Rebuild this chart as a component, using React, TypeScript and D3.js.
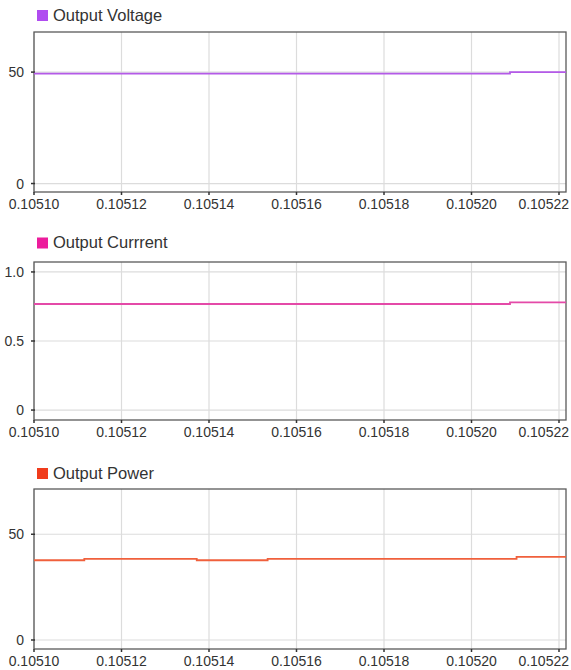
import React, { useRef, useEffect } from 'react';
import * as d3 from 'd3';

// x ticks shared by all three panels
const timeTicks = [0.1051, 0.10512, 0.10514, 0.10516, 0.10518, 0.1052, 0.10522];
const timeDomain = [0.1051, 0.1052216];

// output voltage (step data)
const voltageTimes = [0.1051, 0.1052088, 0.1052216];
const voltageValues = [49.3, 50.0, 50.0];
const voltageTicks = [0, 50];

// output current
const currentTimes = [0.1051, 0.1052088, 0.1052216];
const currentValues = [0.768, 0.78, 0.78];
const currentTicks = [0, 0.5, 1.0];

// output power
const powerTimes = [0.1051, 0.1051115, 0.1051372, 0.1051534, 0.1052103, 0.1052216];
const powerValues = [37.7, 38.4, 37.7, 38.4, 39.3, 39.3];
const powerTicks = [0, 50];

const panels = [
  { name: 'Output Voltage', color: '#b04cf0', line: '#b45ae8', times: voltageTimes, values: voltageValues,
    ticks: voltageTicks, fmt: (v) => String(v), yDomain: [-3.8, 68], top: 32, bottom: 192, legendY: 20.5 },
  { name: 'Output Currrent', color: '#ec1c9c', line: '#e44aa8', times: currentTimes, values: currentValues,
    ticks: currentTicks, fmt: (v) => (v === 0 ? '0' : v.toFixed(1)), yDomain: [-0.072, 1.072], top: 262, bottom: 420, legendY: 248 },
  { name: 'Output Power', color: '#f03c1c', line: '#f0603c', times: powerTimes, values: powerValues,
    ticks: powerTicks, fmt: (v) => String(v), yDomain: [-4.26, 71.4], top: 489, bottom: 649, legendY: 478.5 },
];

function App() {
  const ref = useRef(null);

  useEffect(() => {
    draw();
  }, []);

  function draw() {
    const svg = d3.select(ref.current);
    svg.selectAll('*').remove();
    const left = 34;
    const right = 566;
    const font = 'Arial, "Liberation Sans", sans-serif';

    const x = d3.scaleLinear().domain(timeDomain).range([left, right]);
    // keep the last label inside the page like the original
    const edge = (d) => x(d) + 26 > 571;

    panels.forEach((p) => {
      const y = d3.scaleLinear().domain(p.yDomain).range([p.bottom, p.top]);
      const g = svg.append('g');

      // legend
      g.append('rect')
        .attr('x', 37).attr('y', p.legendY - 10.5)
        .attr('width', 11).attr('height', 11)
        .attr('fill', p.color);
      g.append('text')
        .attr('x', 53).attr('y', p.legendY)
        .attr('font-family', font).attr('font-size', 16.5)
        .attr('fill', '#333')
        .text(p.name);

      // grid
      g.selectAll('.vgrid').data(timeTicks).enter().append('line')
        .attr('x1', (d) => x(d)).attr('x2', (d) => x(d))
        .attr('y1', p.top).attr('y2', p.bottom)
        .attr('stroke', '#dcdcdc').attr('stroke-width', 1.2);
      g.selectAll('.hgrid').data(p.ticks).enter().append('line')
        .attr('x1', left).attr('x2', right)
        .attr('y1', (d) => y(d)).attr('y2', (d) => y(d))
        .attr('stroke', '#dcdcdc').attr('stroke-width', 1.2);

      // frame
      g.append('rect')
        .attr('x', left).attr('y', p.top)
        .attr('width', right - left).attr('height', p.bottom - p.top)
        .attr('fill', 'none').attr('stroke', '#5a5a5a').attr('stroke-width', 1.3);

      // y ticks
      g.selectAll('.ytick').data(p.ticks).enter().append('line')
        .attr('x1', left - 3).attr('x2', left + 1)
        .attr('y1', (d) => y(d)).attr('y2', (d) => y(d))
        .attr('stroke', '#333').attr('stroke-width', 1.5);
      g.selectAll('.ylabel').data(p.ticks).enter().append('text')
        .attr('x', 24).attr('y', (d) => y(d) + 5)
        .attr('text-anchor', 'end')
        .attr('font-family', font).attr('font-size', 14)
        .attr('fill', '#333')
        .text((d) => p.fmt(d));

      // x ticks
      g.selectAll('.xtick').data(timeTicks).enter().append('line')
        .attr('x1', (d) => x(d)).attr('x2', (d) => x(d))
        .attr('y1', p.bottom).attr('y2', p.bottom + 3)
        .attr('stroke', '#333').attr('stroke-width', 1.5);
      g.selectAll('.xlabel').data(timeTicks).enter().append('text')
        .attr('x', (d) => (edge(d) ? 569 : x(d))).attr('y', p.bottom + 17)
        .attr('text-anchor', (d) => (edge(d) ? 'end' : 'middle'))
        .attr('font-family', font).attr('font-size', 14)
        .attr('fill', '#333')
        .text((d) => d.toFixed(5));

      // series
      const pts = p.times.map((t, i) => [t, p.values[i]]);
      g.append('path')
        .datum(pts)
        .attr('fill', 'none')
        .attr('stroke', p.line)
        .attr('stroke-width', 1.8)
        .attr('d', d3.line()
          .x((d) => x(d[0]))
          .y((d) => y(d[1]))
          .curve(d3.curveStepAfter));
    });
  }

  return (
    <svg ref={ref} width={571} height={670}
      style={{ position: 'absolute', left: 0, top: 0, background: '#fff' }} />
  );
}

export default App;
